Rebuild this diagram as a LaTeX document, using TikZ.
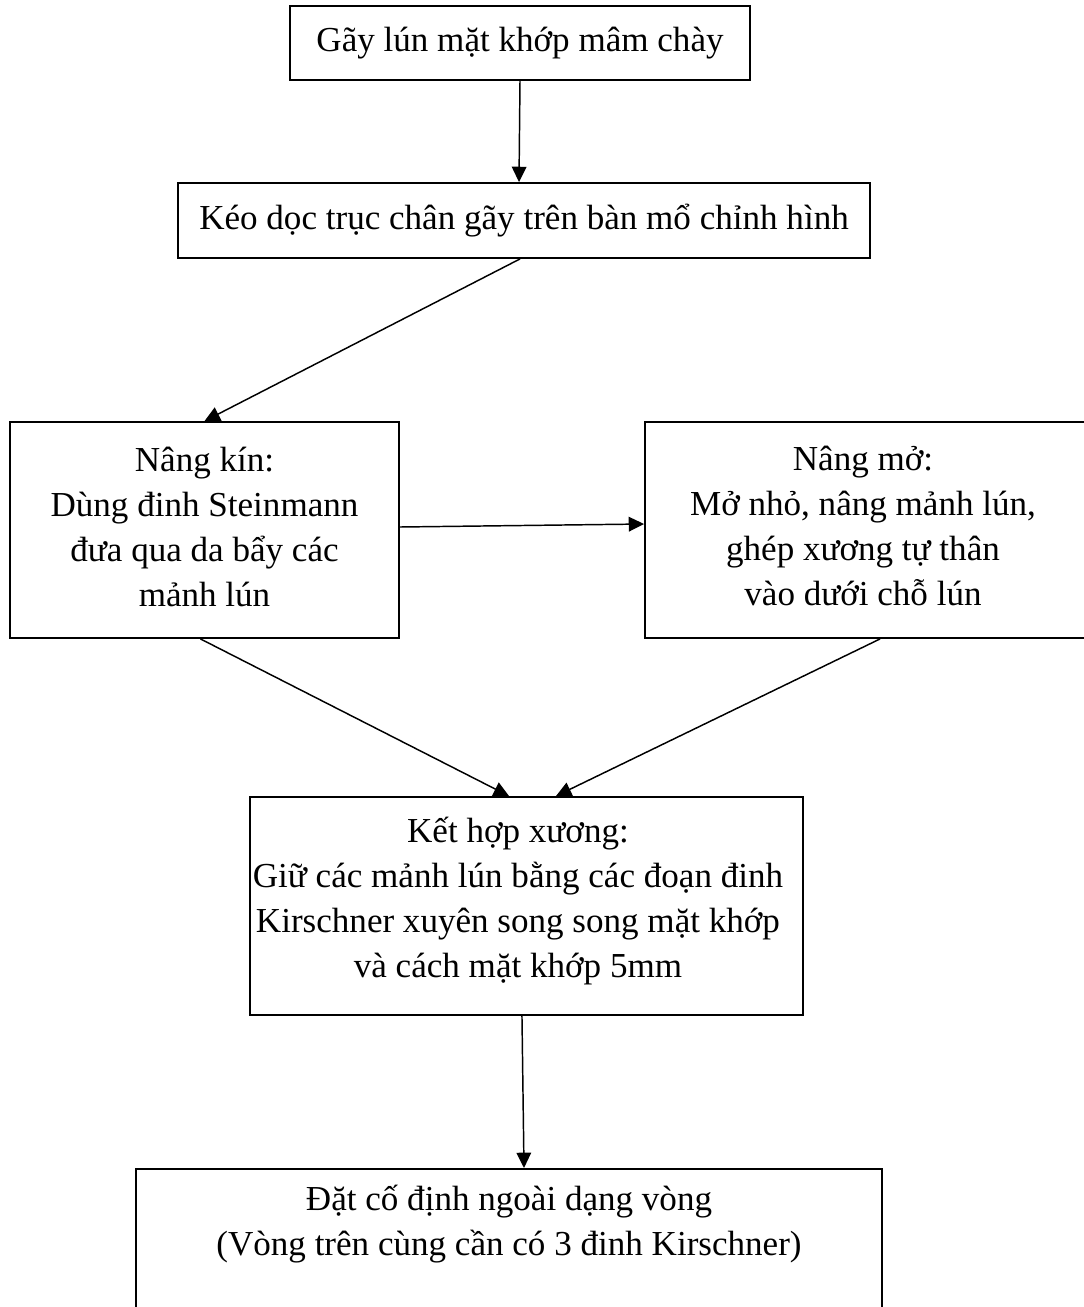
\documentclass[tikz,border=0pt]{standalone}
\usepackage{fontspec}
\setmainfont{Liberation Serif}
\usetikzlibrary{arrows.meta}
\tikzset{
  box/.style={draw, line width=1.4pt, inner sep=0pt, align=center, font=\fontsize{26.3}{33.75}\selectfont},
  txt/.style={inner sep=0pt, align=center, font=\fontsize{26.3}{33.75}\selectfont},
  arr/.style={line width=1.1pt, -{Triangle[length=11.5pt,width=11pt]}}
}
\begin{document}
\begin{tikzpicture}[x=0.75pt,y=-0.75pt]
\useasboundingbox (0,0) rectangle (1084,1307);
\node[box, minimum width=345pt, minimum height=55.5pt] (b1) at (520,43) {Gãy lún mặt khớp mâm chày};
\node[box, minimum width=519pt, minimum height=56.25pt] (b2) at (524,220.5) {Kéo dọc trục chân gãy trên bàn mổ chỉnh hình};
\node[box, minimum width=291.75pt, minimum height=162pt] (b3) at (204.5,530) {};
\node[txt] (b3t) at (204.5,527) {Nâng kín:\\Dùng đinh Steinmann\\đưa qua da bẩy các\\mảnh lún};
\node[box, minimum width=333.75pt, minimum height=162pt] (b4) at (867.5,530) {};
\node[txt] (b4t) at (863,526) {Nâng mở:\\Mở nhỏ, nâng mảnh lún,\\ghép xương tự thân\\vào dưới chỗ lún};
\node[box, minimum width=414.75pt, minimum height=163.5pt] (b5) at (526.5,906) {};
\node[txt] (b5t) at (518,901) {Kết hợp xương:\\Giữ các mảnh lún bằng các đoạn đinh\\Kirschner xuyên song song mặt khớp\\và cách mặt khớp 5mm};
\node[box, minimum width=559.5pt, minimum height=225pt, anchor=north] (b6) at (509,1168) {};
\node[txt] (b6t) at (509,1224) {Đặt cố định ngoài dạng vòng\\(Vòng trên cùng cần có 3 đinh Kirschner)};
\draw[arr] (b1.south) -- ([xshift=-3.75pt]b2.north);
\draw[arr] ([xshift=-3pt]b2.south) -- (b3.north);
\draw[arr] ([yshift=2.25pt]b3.east) -- ([yshift=4.5pt]b4.west);
\draw[arr] ([xshift=-3pt]b3.south) -- ([xshift=-13.1pt]b5.north);
\draw[arr] ([xshift=9.4pt]b4.south) -- ([xshift=22.1pt]b5.north);
\draw[arr] ([xshift=-3.4pt]b5.south) -- ([xshift=11.25pt]b6.north);
\end{tikzpicture}
\end{document}
